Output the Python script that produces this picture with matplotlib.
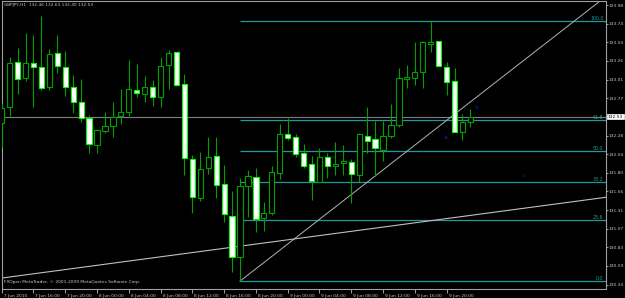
import matplotlib
matplotlib.use("Agg")
import matplotlib.pyplot as plt
from matplotlib.patches import Rectangle
from matplotlib.transforms import ScaledTranslation

# ---------------- data ----------------
title_text = "GBPJPY,H1  132.46 132.63 132.40 132.53"
copyright_text = "FXOpen MetaTrader, \u00a9 2001-2009 MetaQuotes Software Corp."

opens = [132.45, 132.66, 133.24, 133.03, 133.23, 133.18, 132.92, 133.36, 133.18, 132.92,
         132.72, 132.51, 132.16, 132.34, 132.41, 132.54, 132.59, 132.88, 132.83, 132.92,
         132.79, 133.20, 133.37, 132.96, 131.98, 131.47, 131.86, 132.02, 131.65, 131.24,
         130.70, 131.63, 131.74, 131.21, 131.28, 131.80, 132.30, 132.27, 132.06, 131.91,
         131.68, 132.00, 131.89, 131.93, 131.94, 131.77, 132.28, 132.24, 132.10, 132.28,
         132.42, 133.02, 133.03, 133.11, 133.48, 133.51, 133.18, 132.99, 132.33, 132.46]
highs = [132.71, 133.31, 133.42, 133.62, 133.59, 133.84, 133.41, 133.59, 133.38, 133.07,
         133.02, 132.55, 132.37, 132.59, 132.72, 132.89, 133.27, 133.22, 133.06, 133.01,
         133.31, 133.40, 133.37, 133.09, 132.03, 132.07, 132.27, 132.27, 131.90, 131.56,
         131.73, 131.84, 131.86, 131.42, 131.89, 132.44, 132.51, 132.30, 132.17, 132.02,
         132.12, 132.06, 132.20, 132.16, 131.98, 132.32, 132.66, 132.47, 132.47, 132.70,
         133.16, 133.20, 133.50, 133.52, 133.78, 133.51, 133.24, 133.16, 132.56, 132.63]
lows = [132.14, 132.54, 132.83, 132.99, 132.66, 132.88, 132.88, 133.10, 132.80, 132.58,
        132.46, 132.06, 132.06, 132.32, 132.27, 132.44, 132.54, 132.79, 132.72, 132.67,
        132.66, 132.89, 132.93, 131.77, 131.28, 131.43, 131.78, 131.47, 131.16, 130.51,
        130.39, 131.22, 131.03, 131.04, 131.25, 131.72, 132.23, 132.00, 131.86, 131.45,
        131.68, 131.73, 131.77, 131.77, 131.41, 131.68, 132.06, 131.76, 131.95, 132.25,
        132.40, 132.90, 132.94, 132.90, 133.37, 133.19, 132.81, 132.33, 132.23, 132.40]
closes = [132.64, 133.23, 133.02, 133.23, 133.18, 132.90, 133.35, 133.19, 132.92, 132.72,
          132.51, 132.17, 132.36, 132.41, 132.53, 132.59, 132.89, 132.84, 132.92, 132.79,
          133.19, 133.36, 132.94, 131.99, 131.49, 131.85, 132.00, 131.64, 131.26, 130.70,
          131.63, 131.76, 131.20, 131.28, 131.81, 132.30, 132.25, 132.04, 131.89, 131.69,
          132.00, 131.89, 131.91, 131.95, 131.78, 132.31, 132.21, 132.12, 132.28, 132.42,
          133.03, 133.04, 133.11, 133.50, 133.50, 133.19, 132.98, 132.33, 132.46, 132.53]

time_labels = ["7 Jun 2010", "7 Jun 16:00", "7 Jun 20:00", "8 Jun 00:00", "8 Jun 04:00",
               "8 Jun 08:00", "8 Jun 12:00", "8 Jun 16:00", "8 Jun 20:00", "9 Jun 00:00",
               "9 Jun 04:00", "9 Jun 08:00", "9 Jun 12:00", "9 Jun 16:00", "9 Jun 20:00"]
time_label_bars = [0, 4, 8, 12, 16, 20, 24, 28, 32, 36, 40, 44, 48, 52, 56]

price_labels = [133.98, 133.74, 133.50, 133.26, 133.01, 132.77, 132.28, 132.04,
                131.80, 131.56, 131.31, 131.07, 130.83, 130.59, 130.34]

bid_price = 132.53

fib_levels = [0.0, 23.6, 38.2, 50.0, 61.8, 100.0]
fib_low = 130.39
fib_high = 133.78
fib_start_bar = 30

trend_bars = [30, 54]
trend_prices = [130.39, 132.32]
support_bars = [0, 76]
support_prices = [130.43, 131.48]

mark_labels = ["a", "b", "c"]
mark_bars = [55.9, 59.8, 65.8]
mark_prices = [132.26, 132.65, 131.76]

x_range = (0.06, 76.07)
y_range = (130.294, 134.031)

# ---------------- style ----------------
BG = "#000000"
GRID_GRAY = "#a0a0a0"
WICK = "#00a000"
BULL_EDGE = "#00a000"
BEAR_EDGE = "#00ff00"
FIB = "#1f9a9a"
TXT = "#c8c8c8"
FONT = ["Liberation Sans Narrow", "DejaVu Sans"]

W, H = 625, 298
fig = plt.figure(figsize=(W / 100, H / 100), dpi=100, facecolor=BG)
left_px, right_px, top_px, bot_px = 1.7, 606.0, 1.3, 288.5
ax = fig.add_axes([left_px / W, (H - bot_px) / H, (right_px - left_px) / W, (bot_px - top_px) / H])
ax.set_facecolor(BG)
ax.set_xlim(*x_range)
ax.set_ylim(*y_range)

# candles
body_w = 0.66
for i, (o, h, l, c) in enumerate(zip(opens, highs, lows, closes)):
    ax.vlines(i, l, h, color=WICK, lw=0.8, zorder=3)
    lo, hi = min(o, c), max(o, c)
    height = max(hi - lo, 0.012)
    if c >= o:
        rect = Rectangle((i - body_w / 2, lo), body_w, height, facecolor=BG,
                         edgecolor=BULL_EDGE, lw=0.8, zorder=4)
    else:
        rect = Rectangle((i - body_w / 2, lo), body_w, height, facecolor="white",
                         edgecolor=BEAR_EDGE, lw=0.8, zorder=4)
    ax.add_patch(rect)

# bid line
ax.axhline(bid_price, color="#808080", lw=0.8, zorder=2)

# fibonacci
for lev in fib_levels:
    p = fib_low + (fib_high - fib_low) * lev / 100.0
    ax.hlines(p, fib_start_bar, x_range[1], color=FIB, lw=0.9, zorder=2)
    ax.text(x_range[1] - 0.3, p, f"{lev:.1f}", color=FIB, fontsize=3.4, family=FONT,
            ha="right", va="bottom", zorder=5)

# trend lines
slope = (trend_prices[1] - trend_prices[0]) / (trend_bars[1] - trend_bars[0])
ax.plot([trend_bars[0], x_range[1]],
        [trend_prices[0], trend_prices[0] + slope * (x_range[1] - trend_bars[0])],
        color="#b4b4b4", lw=0.7, zorder=2)
ax.plot(support_bars, support_prices, color="#c0c0c0", lw=0.8, zorder=2)

# marks
for t, b, p in zip(mark_labels, mark_bars, mark_prices):
    ax.text(b, p, t, color="#2020b0", fontsize=4.5, family=FONT, ha="center", va="center", zorder=5)

# texts
ax.text(0.004, 0.994, title_text, transform=ax.transAxes, color=TXT, fontsize=3.1,
        family=FONT, ha="left", va="top", zorder=6)
ax.text(0.003, 0.014, copyright_text, transform=ax.transAxes, color=TXT, fontsize=3.2,
        family=FONT, ha="left", va="bottom", zorder=6)

# axes spines
for s in ["top", "bottom", "left", "right"]:
    ax.spines[s].set_color(GRID_GRAY)
    ax.spines[s].set_linewidth(0.8)

# price axis
ax.yaxis.tick_right()
ax.set_yticks(price_labels)
ax.set_yticklabels([f"{v:.2f}" for v in price_labels])
ax.tick_params(axis="y", colors=GRID_GRAY, labelcolor=TXT, length=1.5, width=0.7,
               pad=0.3, labelsize=3.2)
for lab in ax.get_yticklabels():
    lab.set_family(FONT)

# current price box
ax.text(1.003, bid_price, f"{bid_price:.2f}", transform=ax.get_yaxis_transform(),
        color="black", fontsize=3.2, family=FONT, ha="left", va="center", zorder=10,
        clip_on=False, bbox=dict(boxstyle="square,pad=0.15", fc="white", ec="white", lw=0.5))

# time axis
ax.set_xticks(time_label_bars)
ax.set_xticklabels(time_labels)
ax.tick_params(axis="x", colors=GRID_GRAY, labelcolor=TXT, length=3, width=0.7,
               pad=0.8, labelsize=3.2)
offset = ScaledTranslation(2 / 100, 0, fig.dpi_scale_trans)
for lab in ax.get_xticklabels():
    lab.set_family(FONT)
    lab.set_horizontalalignment("left")
    lab.set_transform(lab.get_transform() + offset)

fig.savefig("out.png", dpi=100, facecolor=BG)
